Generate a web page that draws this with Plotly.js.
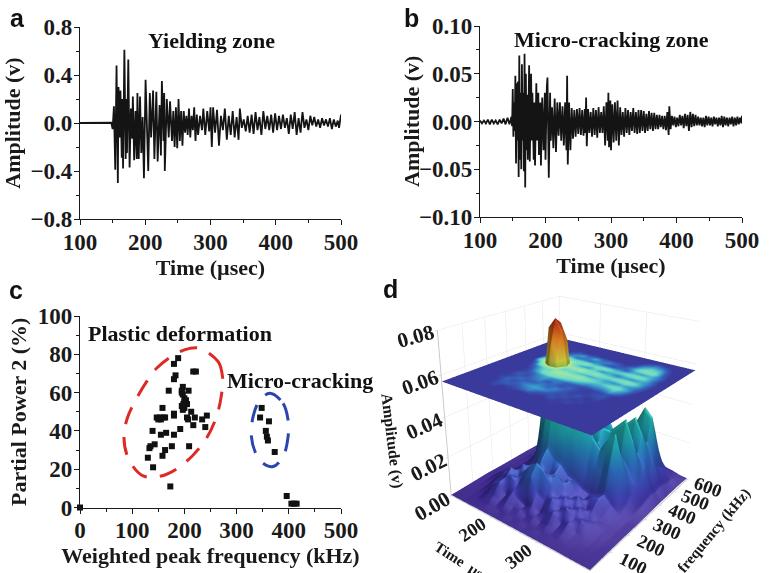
<!DOCTYPE html>
<html><head><meta charset="utf-8">
<script src="https://cdn.plot.ly/plotly-3.0.1.min.js"></script>
<style>html,body{margin:0;padding:0;background:#fff}#chart{width:769px;height:573px}</style>
</head><body><div id="chart"></div>
<script>
const waveA=[[100,0],[120,0],[140,0],[148,.002],[150,-.05],[151,.05],[152,.14],[154,-.39],[156,.48],[158,-.5],[159,.3],[161,-.12],[162,.27],[164,-.29],[165,.2],[166,-.38],[168,.61],[170,-.3],[171,.2],[172,-.25],[174,.53],[176,-.37],[178,.12],[180,-.13],[181,.22],[183,-.31],[185,.1],[187,-.3],[188,.25],[190,-.3],[192,.22],[194,-.25],[196,.05],[198,-.46],[200.5,.36],[204.6,-.4],[207,.25],[209,-.12],[212,.27],[214,-.3],[217,.26],[219,-.32],[222,.15],[224,-.27],[225.5,.35],[228,-.15],[229,.25],[230,-.4],[233,.2],[236,-.12],[238,.18],[241,-.15],[243,.1],[245,-.2],[247,.13],[249,-.21],[251,.2],[253,-.15],[255,.1],[257,-.19],[259,.1],[261,-.08],[263,.06],[265,-.1],[267,.12],[269,-.12],[271,.06],[273,-.06],[275,.13],[277,-.15],[279,.07],[281,-.1],[284,.06],[287,-.06],[289,.12],[292,-.1],[295,.1],[298,-.07],[300,.13],[302,-.2],[304,.13],[307,-.08],[310,.11],[313,-.19],[316,.06],[319,-.06],[322,.12],[325,-.14],[328,.06],[331,-.1],[334,.1],[337,-.12],[340,.05],[343,-.14],[345,.12],[348,-.04],[351,.03],[354,-.07],[357,.06],[360,-.08],[363,.07],[366,-.09],[369,.09],[372,-.06],[375,.05],[378,-.1],[381,.1],[384,-.05],[387,.06],[390,-.06],[393,.07],[396,-.08],[399,.08],[402,-.06],[405,.06],[408,-.05],[411,.07],[414,-.04],[417,.04],[420,-.09],[423,.07],[426,-.05],[429,.09],[432,-.1],[435,.04],[438,-.08],[441,.09],[444,-.04],[447,.03],[450,-.06],[453,.06],[456,-.02],[459,.05],[462,-.03],[465,.03],[468,-.04],[471,.04],[474,-.02],[477,.03],[480,-.03],[483,.04],[486,-.05],[489,.03],[492,-.03],[495,.02],[497,-.04],[500,.07]];
const waveB=[[100,.001],[103,-.002],[106,.001],[109,-.002],[112,.002],[115,-.003],[118,.002],[121,-.002],[124,.001],[127,-.003],[130,.002],[133,-.002],[136,.003],[139,-.003],[142,.004],[145,-.003],[148,.005],[149,-.005],[150,.034],[151,-.016],[152,.02],[153,-.01],[154,.048],[155,-.044],[156,.04],[157,-.02],[158,.042],[159,-.058],[160,.069],[161,-.04],[162,.03],[163,-.05],[164,.06],[165,-.02],[166,.03],[167,-.052],[168,.071],[169,-.069],[170,.05],[171,-.03],[172,.028],[173,-.04],[175,.059],[176,-.042],[178,.05],[179,-.02],[180,.03],[182,-.04],[183,.02],[184,-.046],[186,.04],[187,-.02],[189,.03],[190,-.035],[192,.02],[193,-.046],[195,.025],[197,-.03],[199,.03],[200,-.04],[202,.036],[203,.046],[205,-.059],[207,.03],[208,-.02],[210,.015],[212,-.028],[214,.024],[216,-.032],[218,.02],[220,-.015],[222,.02],[224,-.02],[226,.016],[228,-.025],[230,.02],[232,-.03],[233,.048],[234,-.045],[236,.02],[238,-.03],[240,.014],[242,-.018],[244,.012],[246,-.016],[248,.013],[250,-.013],[252,.014],[254,-.014],[256,.012],[258,-.015],[260,.013],[261,-.012],[262,.025],[263,-.026],[265,.013],[267,-.012],[269,.01],[271,-.016],[273,.014],[275,-.014],[277,.012],[279,-.017],[281,.015],[283,-.012],[285,.01],[287,-.012],[289,.016],[291,-.025],[293,.02],[295,-.02],[296,.03],[297,-.027],[299,.022],[300,-.03],[302,.018],[304,-.022],[306,.02],[308,-.02],[310,.022],[312,-.025],[314,.015],[316,-.014],[318,.01],[320,-.016],[322,.014],[324,-.012],[326,.012],[328,-.014],[330,.01],[332,-.01],[334,.014],[336,-.012],[338,.01],[340,-.013],[342,.012],[344,-.012],[346,.012],[348,-.01],[350,.011],[352,-.012],[354,.008],[356,-.01],[358,.011],[360,-.008],[362,.009],[364,-.01],[366,.009],[368,-.008],[370,.007],[372,-.008],[374,.007],[376,-.006],[378,.006],[380,-.008],[382,.006],[384,-.009],[386,.01],[388,-.014],[389,.016],[391,-.008],[393,.006],[395,-.004],[397,.005],[399,-.006],[401,.004],[403,-.005],[405,.007],[407,-.004],[409,.006],[411,-.007],[413,.008],[415,-.005],[417,.007],[419,-.01],[421,.01],[423,-.006],[425,.008],[427,-.005],[429,.007],[431,-.004],[433,.005],[435,-.004],[437,.004],[439,-.005],[441,.004],[443,-.006],[445,.006],[447,-.004],[449,.005],[451,-.004],[453,.004],[455,-.005],[457,.005],[459,-.003],[461,.004],[463,-.005],[465,.004],[467,-.004],[469,.006],[471,-.006],[473,.005],[475,-.004],[477,.004],[479,-.005],[481,.004],[483,-.003],[485,.005],[487,-.005],[489,.004],[491,-.004],[493,.005],[495,-.003],[497,.004],[499,-.002],[500,.006]];
const plasticX=[188,180,183,180,217,222,170,197,195,208,195,197,200,203,200,198,205,195,200,197,158,213,180,180,147,153,160,155,150,163,205,207,220,234,243,217,240,192,139,165,155,180,143,135,133,176,209,163,158,130,140,173];
const plasticY=[78,75,69,67,71,71,61,63,61,61,60,59,57,56,55,54,54,53,52,51,52,50,49,48,47,47,47,46,46,47,47,46,47,46,48,43,42,41,40,39,38,38,33,32,31,32,32,30,27,26,21,11];
const crackX=[348,345,362,356,358,360,373];
const crackY=[52,47,45,40,37,35,29];
const otherX=[396,405,410,415,0];
const otherY=[6,2,2,2,0];
const redRingX=[229.6,264.7,273,271,261.5,242.3,204,162.6,121,92.5,84.2,90.6,105,127.6,146.7,185,210.5,229.6];
const redRingY=[83.1,76.2,68.3,58.8,47.5,36.2,24,17,16.5,25.7,37,46.6,55.3,65.7,72.7,80.5,83.1,83.1];
const blueRingX=[363.5,389,398.6,398.6,389,370,350.8,336.7,328.4,331.6,343,363.5];
const blueRingY=[59.7,54.4,45.7,37,26.6,21.4,23.1,28.3,37,47.5,55.3,59.7];
const surfTime=[100,115,130,145,160,175,190,205,220,235,250,265,280,295,310,325,340,355,370,385,400];
const surfFreq=[0,30,60,90,120,150,180,210,240,270,300,330,360,390,420,450,480,510,540,570,600];
const planeLevel=0.057;
const surfMilliV=[
[.3,.3,.3,.3,.4,.4,.4,.4,.4,.4,.4,.4,.4,.4,.4,.4,.4,.3,.3,.3,.3],
[.3,.3,.3,.6,1,1.4,1.2,1,1.3,1,1.2,.9,1.1,.9,1,.9,.8,.6,.5,.4,.3],
[.4,.4,.5,1,3,4,2.5,4,2.5,3,2,3,2,3,2,2.5,1.5,1,.7,.5,.4],
[.5,.5,.7,2,6,9,4,7,5,3,6,3,5,7,3,5,2.5,2,1,.6,.5],
[.6,.6,1,4,5,10,12,9,13,16,9,7,10,6,9,5,6,3,1.5,.8,.5],
[.7,.8,2,5,8,13,9,14,18,21,19,13,8,10,6,8,4,4,2,1,.6],
[.8,1,3,6,6,9,14,11,12,16,12,17,11,7,10,5,7,3,2,1,.6],
[.7,1,2,4,7,11,8,14,18,10,14,9,13,8,6,9,10,5,2.5,1,.6],
[.6,.8,1.5,3,5,8,12,18,22,18,16,12,10,8,7,8,10,6,3,1,.6],
[.6,.7,1,2.5,5,10,24,38,42,40,34,30,24,18,18,18,24,14,5,1.5,.6],
[.6,.7,1,3,8,18,30,36,50,48,44,48,40,30,26,32,36,22,8,2,.7],
[.6,.7,1.2,4,14,50,66,60,30,30,26,24,22,26,20,18,22,18,12,3,.8],
[.6,.7,1.5,8,44,74,79,74,50,48,52,38,44,32,32,36,40,30,14,4,.9],
[.6,.7,1.2,5,30,68,76,68,34,22,20,28,18,22,16,20,18,22,16,5,1],
[.5,.6,1,3,10,30,48,36,36,40,30,34,36,28,30,34,38,30,14,4,1],
[.5,.6,.8,2,6,14,20,14,16,14,18,12,10,14,12,22,20,24,16,5,1],
[.4,.5,.7,1.5,4,8,14,20,14,22,14,16,12,8,16,32,40,36,12,4,1],
[.4,.5,.6,1,3,5,8,6,8,6,7,5,6,5,8,22,30,26,10,3,1],
[.4,.4,.5,.8,1.5,3,4,3,4,3,3,2.5,3,3,5,12,18,14,7,3,1],
[.4,.4,.5,.6,1,1.5,2,1.5,2,1.5,1.5,1.5,1.5,1.5,3,5,8,6,4,2,.8],
[.3,.3,.4,.4,.5,.7,.8,.7,.8,.7,.7,.7,.7,.7,1,2,3,2.5,2,1,.6]];

const W=769,H=573;
const fx=p=>p/W, fy=p=>1-p/H;
const serif='"Liberation Serif", serif';
const ink='#1a1a1a';
const surfZ=surfMilliV.map(r=>r.map(v=>v/1000));
const planeZ=surfZ.map(r=>r.map(()=>planeLevel));
const surfScale=[[0,'#35207f'],[.1,'#3a3aa6'],[.25,'#2a6dbc'],[.38,'#1fa8b8'],[.5,'#28c0a8'],[.65,'#25b870'],[.75,'#d8d040'],[.88,'#e07a20'],[1,'#a51a10']];
const planeScale=[[0,'#3a3a9c'],[.07,'#3a3a9c'],[.15,'#3560bb'],[.25,'#3aa0cc'],[.38,'#6ad8c8'],[.55,'#8fe4b0'],[.68,'#b8e88a'],[.78,'#eee24a'],[.88,'#e87a20'],[1,'#a51a10']];

function axis(dom,anchor,range,dtick,minor,title,standoff,fmt){
  return {domain:dom,anchor:anchor,range:range,dtick:dtick,tick0:range[0],
    showgrid:false,zeroline:false,showline:true,linecolor:ink,linewidth:1.3,
    ticks:'outside',ticklen:5,tickwidth:1.3,tickcolor:ink,ticklabelstandoff:-3,
    minor:{ticks:'outside',dtick:minor,ticklen:3,tickwidth:1,tickcolor:ink,showgrid:false},
    tickformat:fmt,tickfont:{family:serif,size:23,color:ink,weight:'bold'},
    title:{text:title,standoff:standoff,font:{family:serif,size:22,color:ink,weight:'bold'}}};
}
const line=(d,xa,ya)=>({type:'scatter',mode:'lines',x:d.map(p=>p[0]),y:d.map(p=>p[1]),xaxis:xa,yaxis:ya,
  line:{color:'#141414',width:1.8},hoverinfo:'skip',showlegend:false});
const dots=(x,y)=>({type:'scatter',mode:'markers',x:x,y:y,xaxis:'x3',yaxis:'y3',cliponaxis:false,
  marker:{symbol:'square',size:6,color:'#111'},showlegend:false});
const ring=(x,y,c)=>({type:'scatter',mode:'lines',x:x,y:y,xaxis:'x3',yaxis:'y3',
  line:{color:c,width:3,shape:'spline',dash:'18px,13px'},showlegend:false});

const traces=[
  line(waveA,'x','y'),line(waveB,'x2','y2'),
  dots(plasticX,plasticY),dots(crackX,crackY),dots(otherX,otherY),
  ring(redRingX,redRingY,'#dd2a24'),ring(blueRingX,blueRingY,'#2a46ae'),
  {type:'surface',scene:'scene',x:surfTime,y:surfFreq,z:surfZ,colorscale:surfScale,cmin:0,cmax:.08,showscale:false,
   lighting:{ambient:.45,diffuse:.75,specular:.12,roughness:.5,fresnel:.02},lightposition:{x:3000,y:-2500,z:1500}},
  {type:'surface',scene:'scene',x:surfTime,y:surfFreq,z:planeZ,surfacecolor:surfZ,colorscale:planeScale,cmin:0,cmax:.08,showscale:false,
   lighting:{ambient:1,diffuse:0,specular:0,roughness:1,fresnel:0}}
];

const ax3=(range,vals,text,title,sz)=>({range:range,tickvals:vals,ticktext:text,
  title:{text:title,font:{family:serif,size:sz,color:ink,weight:'bold'}},
  tickfont:{family:serif,size:sz,color:ink,weight:'bold'},
  showbackground:false,gridcolor:'#e6e6e6',gridwidth:1,showline:true,linecolor:'#c8c8c8',linewidth:2,
  zeroline:false,showspikes:false,ticks:'outside',ticklen:2,tickcolor:'#bbb'});

const layout={width:W,height:H,margin:{l:0,r:0,t:0,b:0},paper_bgcolor:'#fff',plot_bgcolor:'#fff',showlegend:false,
  xaxis:axis([fx(80),fx(341)],'y',[100,500],100,50,'Time (µsec)',4),
  yaxis:axis([fy(219),fy(27)],'x',[-.8,.8],.4,.2,'Amplitude (v)',8,'.1f'),
  xaxis2:axis([fx(480),fx(742)],'y2',[100,500],100,50,'Time (µsec)',4),
  yaxis2:axis([fy(217),fy(26)],'x2',[-.1,.1],.05,.025,'',0,'.2f'),
  xaxis3:axis([fx(80),fx(341)],'y3',[0,500],100,50,'Weighted peak frequency (kHz)',4),
  yaxis3:axis([fy(507.5),fy(316)],'x3',[0,100],20,10,'Partial Power 2 (%)',5),
  scene:{domain:{x:[fx(375),1],y:[0,fy(128)]},aspectmode:'manual',aspectratio:{x:1,y:1,z:1},
    camera:{eye:{x:1.71,y:-2.18,z:1.3},center:{x:0,y:0,z:.36},up:{x:0,y:0,z:1}},
    xaxis:ax3([100,400],[200,300],['200','300'],'Time  µsec',15),
    yaxis:ax3([0,600],[100,200,300,400,500,600],['100','200','300','400','500','600'],'Peak frequency (kHz)',15),
    zaxis:ax3([0,.08],[0,.02,.04,.06,.08],['0.00','0.02','0.04','0.06','0.08'],'Amplitude (v)',16)},
  annotations:[
    ['a',17,18,'Liberation Sans',25],['b',411,18,'Liberation Sans',25],['c',16,290,'Liberation Sans',25],['d',390,289,'Liberation Sans',25],
    ['Yielding zone',211,40,'Liberation Serif',22],['Micro-cracking zone',611,39,'Liberation Serif',22],
    ['Plastic deformation',180,333,'Liberation Serif',22],['Micro-cracking',300,380,'Liberation Serif',22]
  ].map(t=>({text:t[0],x:fx(t[1]),y:fy(t[2]),xref:'paper',yref:'paper',xanchor:'center',yanchor:'middle',showarrow:false,
    font:{family:t[3],size:t[4],color:'#111',weight:'bold'}})).concat([{text:'Amplitude (v)',x:fx(412),y:fy(122),xref:'paper',yref:'paper',
    xanchor:'center',yanchor:'middle',textangle:-90,showarrow:false,font:{family:serif,size:22,color:ink,weight:'bold'}}])
};
Plotly.newPlot('chart',traces,layout,{displayModeBar:false});
</script></body></html>
